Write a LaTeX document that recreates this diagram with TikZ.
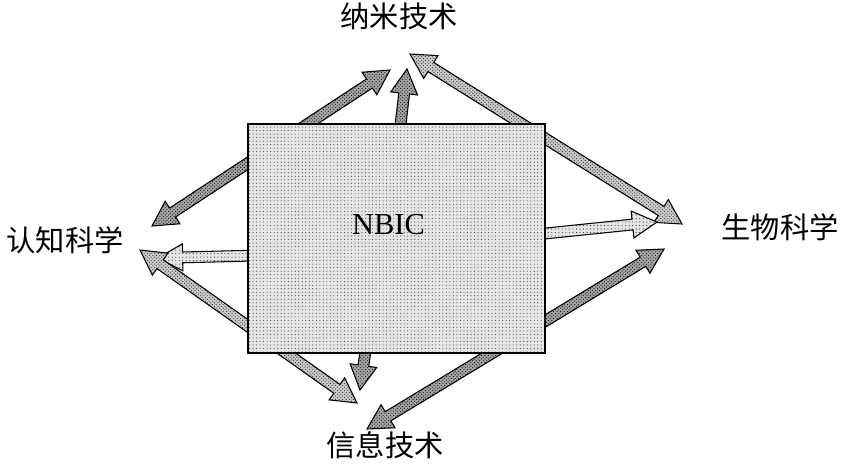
\documentclass[tikz,border=0pt]{standalone}
\usepackage{fontspec}
\setmainfont{Liberation Serif}
\newfontfamily\cjk{Noto Sans CJK SC}
\usepackage{tikz}
\usetikzlibrary{calc, patterns, backgrounds}

\newcommand{\shaftw}{4.6pt}
\newcommand{\headw}{11.5pt}
\newcommand{\headl}{21pt}

% block arrow with one head: style, from, to
\newcommand{\blockarrow}[3]{%
  \coordinate (hb) at ($(#3)!\headl!(#2)$);
  \path[#1] ($(#2)!\shaftw!90:(#3)$) -- ($(hb)!\shaftw!90:(#3)$)
    -- ($(hb)!\headw!90:(#3)$) -- (#3) -- ($(hb)!\headw!-90:(#3)$)
    -- ($(hb)!\shaftw!-90:(#3)$) -- ($(#2)!\shaftw!-90:(#3)$) -- cycle;}

% block arrow with two heads: style, from, to
\newcommand{\twowayarrow}[3]{%
  \coordinate (ha) at ($(#2)!\headl!(#3)$);
  \coordinate (hb) at ($(#3)!\headl!(#2)$);
  \path[#1] (#2) -- ($(ha)!\headw!90:(#3)$) -- ($(ha)!\shaftw!90:(#3)$)
    -- ($(hb)!\shaftw!90:(#3)$) -- ($(hb)!\headw!90:(#3)$) -- (#3)
    -- ($(hb)!\headw!-90:(#3)$) -- ($(hb)!\shaftw!-90:(#3)$)
    -- ($(ha)!\shaftw!-90:(#3)$) -- ($(ha)!\headw!-90:(#3)$) -- cycle;}

\begin{document}
\begin{tikzpicture}[
    x=0.03cm, y=-0.03cm,
    lab/.style={font=\cjk\fontsize{25}{30}\selectfont, inner sep=0pt},
    box/.style={draw, line width=0.9pt, preaction={fill=black!10},
                pattern=dots, pattern color=black!70, inner sep=0pt,
                minimum width=8.91cm, minimum height=6.87cm},
    arrbase/.style={draw, line width=0.9pt, line join=miter},
    darkarr/.style={arrbase, preaction={fill=black!35}, pattern=crosshatch dots, pattern color=black},
    dotarr/.style={arrbase, preaction={fill=black!20}, pattern=crosshatch dots, pattern color=black!85},
    lightarr/.style={arrbase, preaction={fill=black!10}, pattern=dots, pattern color=black!80},
]
\useasboundingbox (0,0) rectangle (847,468);

% centre block
\node[box] (nbic) at (396.5,238.5) {};
\node[font=\fontsize{26}{30}\selectfont, inner sep=0pt] (nbiclabel) at (388.5,225) {NBIC};

% fields
\node[lab] (nano) at (399,16) {纳米技术};
\node[lab] (cogn) at (65,240) {认知科学};
\node[lab] (bio)  at (780,227) {生物科学};
\node[lab] (info) at (385,445) {信息技术};

% arrow tips
\coordinate (nanoL) at (390,70);
\coordinate (nanoM) at (407,69);
\coordinate (nanoR) at (410,54);
\coordinate (cognU) at (152,226);
\coordinate (cognM) at (158,258);
\coordinate (cognL) at (140,250);
\coordinate (bioU)  at (682,224);
\coordinate (bioM)  at (657,222);
\coordinate (bioL)  at (664,249);
\coordinate (infoL) at (357,403);
\coordinate (infoM) at (360,390);
\coordinate (infoR) at (367,429);

% arrows behind the block
\begin{scope}[on background layer]
\twowayarrow{dotarr}{nanoR}{bioU}
\blockarrow{lightarr}{$(nbic.east)+(-10,-4)$}{bioM}
\blockarrow{lightarr}{$(nbic.west)+(10,17)$}{cognM}
\twowayarrow{dotarr}{cognL}{infoL}
\twowayarrow{darkarr}{cognU}{nanoL}
\blockarrow{darkarr}{$(nbic.north)+(3,10)$}{nanoM}
\twowayarrow{darkarr}{bioL}{infoR}
\blockarrow{darkarr}{$(nbic.south)+(-30,-10)$}{infoM}
\end{scope}

\end{tikzpicture}
\end{document}
